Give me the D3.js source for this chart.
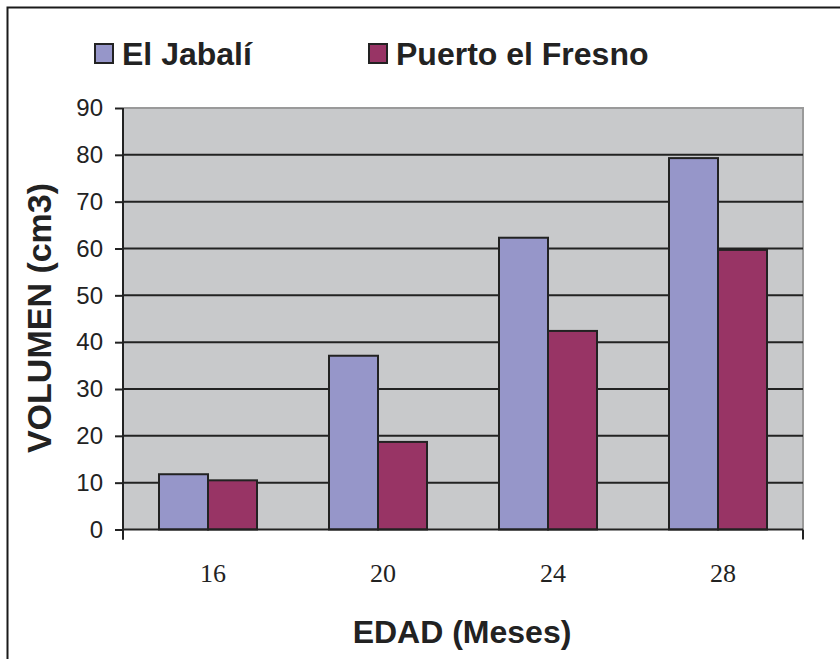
<!DOCTYPE html>
<html>
<head>
<meta charset="utf-8">
<script src="https://cdn.jsdelivr.net/npm/d3@7"></script>
<style>
  html, body { margin: 0; padding: 0; background: #fff; }
  svg { display: block; }
</style>
</head>
<body>
<svg id="chart" width="840" height="659"></svg>
<script>
// Volumen por edad en dos localidades
const categories = ["16", "20", "24", "28"];
const seriesNames = ["El Jabalí", "Puerto el Fresno"];
const elJabali = [11.8, 37.1, 62.3, 79.3];
const puertoFresno = [10.5, 18.7, 42.4, 59.7];
const yTicks = [0, 10, 20, 30, 40, 50, 60, 70, 80, 90];
const colors = ["#9696c9", "#983465"];

const svg = d3.select("#chart");
const plot = { left: 123, right: 803, top: 108, bottom: 529.5 };

// Outer frame
svg.append("rect")
  .attr("x", 7.5).attr("y", 7.5).attr("width", 845).attr("height", 670)
  .attr("fill", "none").attr("stroke", "#1a1a1a").attr("stroke-width", 2);

const x0 = d3.scaleBand().domain(categories).range([plot.left, plot.right]).paddingInner(0).paddingOuter(0);
const y = d3.scaleLinear().domain([0, 90]).range([plot.bottom, plot.top]);

// Plot background
svg.append("rect")
  .attr("x", plot.left).attr("y", plot.top)
  .attr("width", plot.right - plot.left).attr("height", plot.bottom - plot.top)
  .attr("fill", "#c8c9cb");
// light edge on top and right
svg.append("path")
  .attr("d", `M${plot.left},${plot.top}H${plot.right}V${plot.bottom}`)
  .attr("fill", "none").attr("stroke", "#9a9a9a").attr("stroke-width", 2);

// Gridlines
svg.append("g").selectAll("line")
  .data(yTicks.filter(d => d > 0 && d < 90))
  .join("line")
  .attr("x1", plot.left).attr("x2", plot.right)
  .attr("y1", d => y(d)).attr("y2", d => y(d))
  .attr("stroke", "#222").attr("stroke-width", 2);

// Bars
const data = categories.map((c, i) => ({ c, vals: [elJabali[i], puertoFresno[i]] }));
const bw = 49;
const groups = svg.append("g").selectAll("g")
  .data(data).join("g")
  .attr("transform", d => `translate(${x0(d.c) + x0.bandwidth() / 2 - bw},0)`);
groups.selectAll("rect")
  .data(d => d.vals)
  .join("rect")
  .attr("x", (d, i) => i * bw)
  .attr("y", d => y(d))
  .attr("width", bw)
  .attr("height", d => y(0) - y(d))
  .attr("fill", (d, i) => colors[i])
  .attr("stroke", "#222").attr("stroke-width", 2);

// Y axis
const yAxis = d3.axisLeft(y).tickValues(yTicks).tickSize(8).tickPadding(12).tickFormat(d3.format("d"));
const gy = svg.append("g").attr("transform", `translate(${plot.left},0)`).call(yAxis);
gy.select(".domain").attr("d", `M0,${plot.top}V${plot.bottom + 10}`).attr("stroke", "#222").attr("stroke-width", 2);
gy.selectAll(".tick line").attr("stroke", "#222").attr("stroke-width", 2);
gy.selectAll(".tick text")
  .attr("font-family", "Liberation Sans, Arial, sans-serif")
  .attr("font-size", 24).attr("fill", "#222");

// X axis
const xAxis = d3.axisBottom(x0).tickSize(0).tickPadding(34);
const gx = svg.append("g").attr("transform", `translate(0,${plot.bottom})`).call(xAxis);
gx.select(".domain").attr("d", `M${plot.left},0H${plot.right}`).attr("stroke", "#222").attr("stroke-width", 2);
gx.selectAll(".tick text")
  .attr("font-family", "Liberation Serif, Times New Roman, serif")
  .attr("font-size", 26).attr("fill", "#222").attr("dx", 5);
// end ticks
svg.append("g").selectAll("line")
  .data([plot.left, plot.right]).join("line")
  .attr("x1", d => d).attr("x2", d => d)
  .attr("y1", plot.bottom).attr("y2", plot.bottom + 10)
  .attr("stroke", "#222").attr("stroke-width", 2);

// Axis titles
svg.append("text")
  .attr("x", 462).attr("y", 643)
  .attr("text-anchor", "middle")
  .attr("font-family", "Liberation Sans, Arial, sans-serif")
  .attr("font-weight", "bold").attr("font-size", 32).attr("fill", "#222")
  .text("EDAD (Meses)");
svg.append("text")
  .attr("transform", "translate(51,318) rotate(-90)")
  .attr("text-anchor", "middle")
  .attr("font-family", "Liberation Sans, Arial, sans-serif")
  .attr("font-weight", "bold").attr("font-size", 34).attr("fill", "#222")
  .text("VOLUMEN (cm3)");

// Legend
const legendX = [95, 369];
const lg = svg.append("g").selectAll("g")
  .data(seriesNames).join("g")
  .attr("transform", (d, i) => `translate(${legendX[i]},44)`);
lg.append("rect")
  .attr("x", 0).attr("y", 0).attr("width", 18).attr("height", 19)
  .attr("fill", (d, i) => colors[i]).attr("stroke", "#222").attr("stroke-width", 2);
lg.append("text")
  .attr("x", 27).attr("y", 21)
  .attr("font-family", "Liberation Sans, Arial, sans-serif")
  .attr("font-weight", "bold").attr("font-size", 32).attr("fill", "#222")
  .text(d => d);
</script>
</body>
</html>
